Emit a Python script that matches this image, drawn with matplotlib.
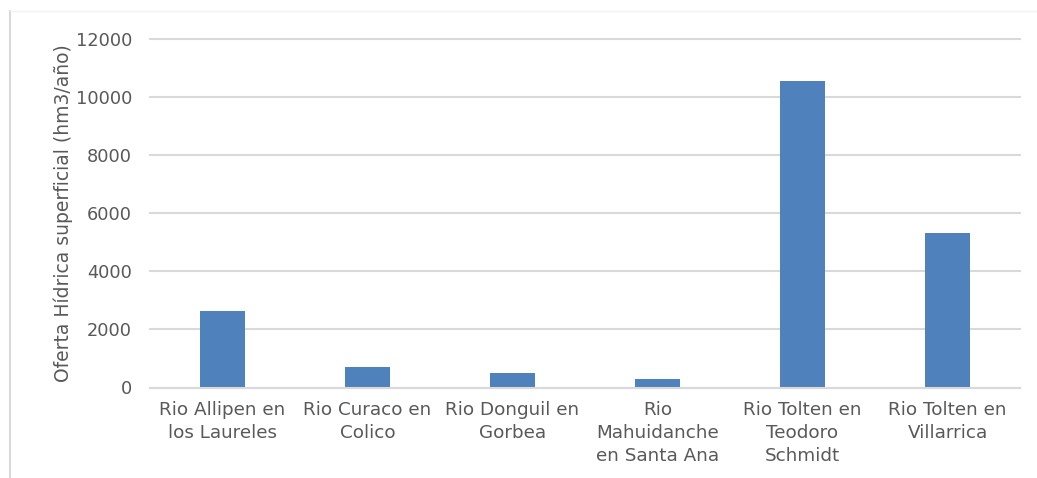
import matplotlib
matplotlib.use("Agg")
import matplotlib.pyplot as plt
from matplotlib.lines import Line2D

# Surface water supply per river gauging station
stations = [
    "Rio Allipen en\nlos Laureles",
    "Rio Curaco en\nColico",
    "Rio Donguil en\nGorbea",
    "Rio\nMahuidanche\nen Santa Ana",
    "Rio Tolten en\nTeodoro\nSchmidt",
    "Rio Tolten en\nVillarrica",
]
supply_hm3 = [2630, 705, 500, 295, 10540, 5315]
y_ticks = [0, 2000, 4000, 6000, 8000, 10000, 12000]

text_color = "#595959"
grid_color = "#d9d9d9"
bar_color = "#4f81bd"

plt.rcParams["font.family"] = ["DejaVu Sans"]

fig = plt.figure(figsize=(10.37, 4.78), dpi=100)
ax = fig.add_axes([150 / 1037, 1 - 387.5 / 478, 870 / 1037, (387.5 - 39) / 478])

x = range(len(stations))
ax.bar(x, supply_hm3, width=0.317, color=bar_color, zorder=3)

ax.set_xlim(-0.5, len(stations) - 0.5)
ax.set_ylim(0, 12000)
ax.set_yticks(y_ticks)
ax.set_yticklabels([str(v) for v in y_ticks])
ax.set_xticks(list(x))
ax.set_xticklabels(stations, linespacing=1.35)

ax.tick_params(axis="y", length=0, pad=13, labelsize=12.8, colors=text_color)
ax.tick_params(axis="x", length=0, pad=10, labelsize=13.2, colors=text_color)

ax.grid(axis="y", color=grid_color, linewidth=1.5, zorder=0)
for gl in ax.get_ygridlines():
    gl.set_clip_on(False)
for side in ["top", "right", "left"]:
    ax.spines[side].set_visible(False)
ax.spines["bottom"].set_color(grid_color)
ax.spines["bottom"].set_linewidth(1.5)
ax.spines["bottom"].set_zorder(4)

ax.set_ylabel("Oferta Hídrica superficial (hm3/año)", fontsize=13.5,
              color=text_color, labelpad=2)

# Chart frame edges (left and top)
fig.add_artist(Line2D([9.5 / 1037, 9.5 / 1037], [0, 1 - 11 / 478],
                      transform=fig.transFigure, color="#d9d9d9", linewidth=1.5))
fig.add_artist(Line2D([9.5 / 1037, 1], [1 - 11 / 478, 1 - 11 / 478],
                      transform=fig.transFigure, color="#f2f2f2", linewidth=1.0))

fig.savefig("out.png", dpi=100)
